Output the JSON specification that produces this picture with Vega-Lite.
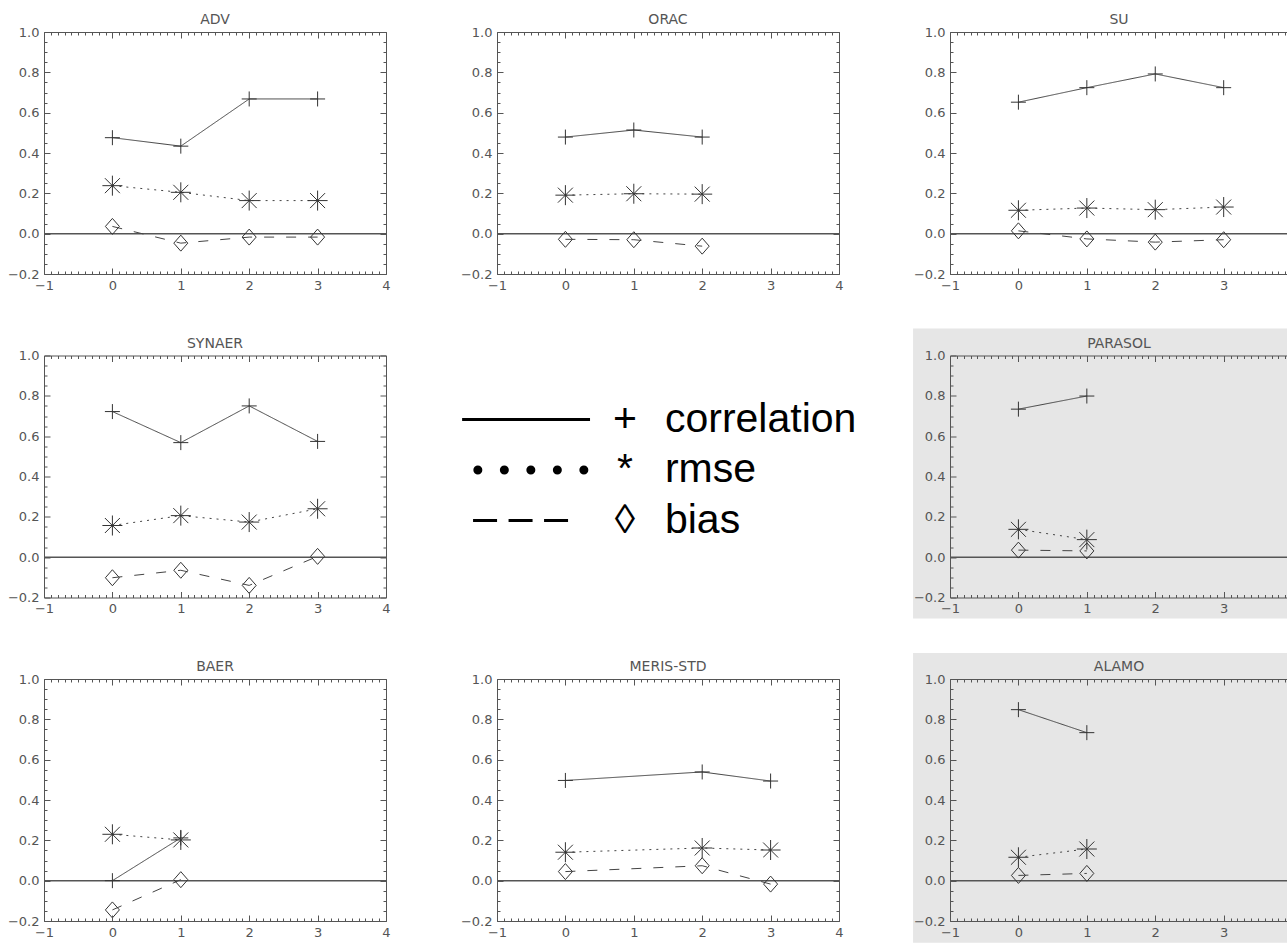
{
  "$schema": "https://vega.github.io/schema/vega-lite/v6.json",
  "background": "white",
  "padding": {"left": 7, "top": 13, "right": 0, "bottom": 0},
  "columns": 3,
  "bounds": "flush",
  "align": "all",
  "spacing": {"row": 81.5, "column": 111},
  "resolve": {"scale": {"x": "independent", "y": "independent"}},
  "config": {
    "view": {"stroke": null},
    "axis": {"domainColor": "#555", "tickColor": "#555", "labelColor": "#555", "labelFont": "DejaVu Sans", "labelFontSize": 13, "grid": false, "domainWidth": 1, "tickWidth": 1},
    "title": {"font": "DejaVu Sans", "fontSize": 14, "fontWeight": "normal", "color": "#555", "frame": "group", "offset": -1}
  },
  "datasets": {
    "stats": [
      {"panel": "ADV", "metric": "correlation", "step": 0, "value": 0.476},
      {"panel": "ADV", "metric": "correlation", "step": 1, "value": 0.434},
      {"panel": "ADV", "metric": "correlation", "step": 2, "value": 0.668},
      {"panel": "ADV", "metric": "correlation", "step": 3, "value": 0.668},
      {"panel": "ADV", "metric": "rmse", "step": 0, "value": 0.238},
      {"panel": "ADV", "metric": "rmse", "step": 1, "value": 0.205},
      {"panel": "ADV", "metric": "rmse", "step": 2, "value": 0.164},
      {"panel": "ADV", "metric": "rmse", "step": 3, "value": 0.164},
      {"panel": "ADV", "metric": "bias", "step": 0, "value": 0.036},
      {"panel": "ADV", "metric": "bias", "step": 1, "value": -0.047},
      {"panel": "ADV", "metric": "bias", "step": 2, "value": -0.017},
      {"panel": "ADV", "metric": "bias", "step": 3, "value": -0.017},
      {"panel": "ORAC", "metric": "correlation", "step": 0, "value": 0.479},
      {"panel": "ORAC", "metric": "correlation", "step": 1, "value": 0.514},
      {"panel": "ORAC", "metric": "correlation", "step": 2, "value": 0.479},
      {"panel": "ORAC", "metric": "rmse", "step": 0, "value": 0.191},
      {"panel": "ORAC", "metric": "rmse", "step": 1, "value": 0.198},
      {"panel": "ORAC", "metric": "rmse", "step": 2, "value": 0.196},
      {"panel": "ORAC", "metric": "bias", "step": 0, "value": -0.028},
      {"panel": "ORAC", "metric": "bias", "step": 1, "value": -0.030},
      {"panel": "ORAC", "metric": "bias", "step": 2, "value": -0.062},
      {"panel": "SU", "metric": "correlation", "step": 0, "value": 0.652},
      {"panel": "SU", "metric": "correlation", "step": 1, "value": 0.724},
      {"panel": "SU", "metric": "correlation", "step": 2, "value": 0.792},
      {"panel": "SU", "metric": "correlation", "step": 3, "value": 0.724},
      {"panel": "SU", "metric": "rmse", "step": 0, "value": 0.116},
      {"panel": "SU", "metric": "rmse", "step": 1, "value": 0.127},
      {"panel": "SU", "metric": "rmse", "step": 2, "value": 0.119},
      {"panel": "SU", "metric": "rmse", "step": 3, "value": 0.132},
      {"panel": "SU", "metric": "bias", "step": 0, "value": 0.014},
      {"panel": "SU", "metric": "bias", "step": 1, "value": -0.026},
      {"panel": "SU", "metric": "bias", "step": 2, "value": -0.042},
      {"panel": "SU", "metric": "bias", "step": 3, "value": -0.030},
      {"panel": "SYNAER", "metric": "correlation", "step": 0, "value": 0.722},
      {"panel": "SYNAER", "metric": "correlation", "step": 1, "value": 0.568},
      {"panel": "SYNAER", "metric": "correlation", "step": 2, "value": 0.750},
      {"panel": "SYNAER", "metric": "correlation", "step": 3, "value": 0.574},
      {"panel": "SYNAER", "metric": "rmse", "step": 0, "value": 0.157},
      {"panel": "SYNAER", "metric": "rmse", "step": 1, "value": 0.206},
      {"panel": "SYNAER", "metric": "rmse", "step": 2, "value": 0.174},
      {"panel": "SYNAER", "metric": "rmse", "step": 3, "value": 0.240},
      {"panel": "SYNAER", "metric": "bias", "step": 0, "value": -0.102},
      {"panel": "SYNAER", "metric": "bias", "step": 1, "value": -0.065},
      {"panel": "SYNAER", "metric": "bias", "step": 2, "value": -0.140},
      {"panel": "SYNAER", "metric": "bias", "step": 3, "value": 0.004},
      {"panel": "PARASOL", "metric": "correlation", "step": 0, "value": 0.734},
      {"panel": "PARASOL", "metric": "correlation", "step": 1, "value": 0.799},
      {"panel": "PARASOL", "metric": "rmse", "step": 0, "value": 0.138},
      {"panel": "PARASOL", "metric": "rmse", "step": 1, "value": 0.087},
      {"panel": "PARASOL", "metric": "bias", "step": 0, "value": 0.035},
      {"panel": "PARASOL", "metric": "bias", "step": 1, "value": 0.031},
      {"panel": "BAER", "metric": "correlation", "step": 0, "value": 0.0},
      {"panel": "BAER", "metric": "correlation", "step": 1, "value": 0.212},
      {"panel": "BAER", "metric": "rmse", "step": 0, "value": 0.230},
      {"panel": "BAER", "metric": "rmse", "step": 1, "value": 0.202},
      {"panel": "BAER", "metric": "bias", "step": 0, "value": -0.145},
      {"panel": "BAER", "metric": "bias", "step": 1, "value": 0.005},
      {"panel": "MERIS-STD", "metric": "correlation", "step": 0, "value": 0.497},
      {"panel": "MERIS-STD", "metric": "correlation", "step": 2, "value": 0.539},
      {"panel": "MERIS-STD", "metric": "correlation", "step": 3, "value": 0.494},
      {"panel": "MERIS-STD", "metric": "rmse", "step": 0, "value": 0.141},
      {"panel": "MERIS-STD", "metric": "rmse", "step": 2, "value": 0.162},
      {"panel": "MERIS-STD", "metric": "rmse", "step": 3, "value": 0.152},
      {"panel": "MERIS-STD", "metric": "bias", "step": 0, "value": 0.045},
      {"panel": "MERIS-STD", "metric": "bias", "step": 2, "value": 0.074},
      {"panel": "MERIS-STD", "metric": "bias", "step": 3, "value": -0.017},
      {"panel": "ALAMO", "metric": "correlation", "step": 0, "value": 0.848},
      {"panel": "ALAMO", "metric": "correlation", "step": 1, "value": 0.734},
      {"panel": "ALAMO", "metric": "rmse", "step": 0, "value": 0.116},
      {"panel": "ALAMO", "metric": "rmse", "step": 1, "value": 0.157},
      {"panel": "ALAMO", "metric": "bias", "step": 0, "value": 0.026},
      {"panel": "ALAMO", "metric": "bias", "step": 1, "value": 0.036}
    ],
    "legendRows": [
      {"metric": "correlation", "symbol": "+", "label": "correlation"},
      {"metric": "rmse", "symbol": "*", "label": "rmse"},
      {"metric": "bias", "symbol": "◊", "label": "bias"}
    ],
    "one": [{}]
  },
  "concat": [
    {
      "width": 342, "height": 242,
      "title": {"text": "ADV"},
      "layer": [
        {"data": {"name": "one"}, "mark": {"type": "rule", "color": "#555", "strokeWidth": 1.5}, "encoding": {"y": {"datum": 0, "type": "quantitative", "scale": {"domain": [-0.2, 1.0], "nice": false, "zero": false}, "axis": null}}},
        {"data": {"name": "stats"}, "transform": [{"filter": "datum.panel == 'ADV'"}], "mark": {"type": "line", "color": "#444", "strokeWidth": 1},
         "encoding": {
           "x": {"field": "step", "type": "quantitative", "scale": {"domain": [-1, 4], "nice": false, "zero": false}, "axis": {"orient": "bottom", "zindex": 1, "title": null, "tickCount": 50, "labelOverlap": false, "labelBound": false, "labelFlush": false, "tickSize": {"condition": {"test": "abs(datum.value - round(datum.value)) < 0.000001", "value": -6}, "value": -3}, "labelExpr": "abs(datum.value - round(datum.value)) < 0.000001 ? format(datum.value, 'd') : ''", "labelPadding": 11}},
           "y": {"field": "value", "type": "quantitative", "scale": {"domain": [-0.2, 1.0], "nice": false, "zero": false}, "axis": {"orient": "left", "zindex": 1, "title": null, "tickCount": 24, "labelOverlap": false, "labelBound": false, "labelFlush": false, "tickSize": {"condition": {"test": "abs(datum.value * 5 - round(datum.value * 5)) < 0.000001", "value": -6}, "value": -3}, "labelExpr": "abs(datum.value * 5 - round(datum.value * 5)) < 0.000001 ? format(datum.value, '.1f') : ''", "labelPadding": 11}},
           "strokeDash": {"field": "metric", "type": "nominal", "scale": {"domain": ["correlation", "rmse", "bias"], "range": [[1, 0], [2, 5], [10, 12]]}, "legend": null}
         }},
        {"data": {"name": "stats"}, "transform": [{"filter": "datum.panel == 'ADV'"}], "mark": {"type": "point", "filled": false, "stroke": "#333", "strokeWidth": 1, "size": 400, "opacity": 1},
         "encoding": {
           "x": {"field": "step", "type": "quantitative", "scale": {"domain": [-1, 4], "nice": false, "zero": false}, "axis": {"orient": "top", "zindex": 1, "title": null, "tickCount": 50, "labels": false, "tickSize": {"condition": {"test": "abs(datum.value - round(datum.value)) < 0.000001", "value": -6}, "value": -3}}},
           "y": {"field": "value", "type": "quantitative", "scale": {"domain": [-0.2, 1.0], "nice": false, "zero": false}, "axis": {"orient": "right", "zindex": 1, "title": null, "tickCount": 24, "labels": false, "tickSize": {"condition": {"test": "abs(datum.value * 5 - round(datum.value * 5)) < 0.000001", "value": -6}, "value": -3}}},
           "shape": {"field": "metric", "type": "nominal", "scale": {"domain": ["correlation", "rmse", "bias"], "range": ["M-0.75,0L0.75,0M0,-0.75L0,0.75", "M-1,0L1,0M0,-1L0,1M-0.75,-0.75L0.75,0.75M-0.75,0.75L0.75,-0.75", "M0,-0.8L0.7,0L0,0.8L-0.7,0Z"]}, "legend": null}
         }}
      ],
      "resolve": {"axis": {"x": "independent", "y": "independent"}}
    },
    {
      "width": 342, "height": 242,
      "title": {"text": "ORAC"},
      "layer": [
        {"data": {"name": "one"}, "mark": {"type": "rule", "color": "#555", "strokeWidth": 1.5}, "encoding": {"y": {"datum": 0, "type": "quantitative", "scale": {"domain": [-0.2, 1.0], "nice": false, "zero": false}, "axis": null}}},
        {"data": {"name": "stats"}, "transform": [{"filter": "datum.panel == 'ORAC'"}], "mark": {"type": "line", "color": "#444", "strokeWidth": 1},
         "encoding": {
           "x": {"field": "step", "type": "quantitative", "scale": {"domain": [-1, 4], "nice": false, "zero": false}, "axis": {"orient": "bottom", "zindex": 1, "title": null, "tickCount": 50, "labelOverlap": false, "labelBound": false, "labelFlush": false, "tickSize": {"condition": {"test": "abs(datum.value - round(datum.value)) < 0.000001", "value": -6}, "value": -3}, "labelExpr": "abs(datum.value - round(datum.value)) < 0.000001 ? format(datum.value, 'd') : ''", "labelPadding": 11}},
           "y": {"field": "value", "type": "quantitative", "scale": {"domain": [-0.2, 1.0], "nice": false, "zero": false}, "axis": {"orient": "left", "zindex": 1, "title": null, "tickCount": 24, "labelOverlap": false, "labelBound": false, "labelFlush": false, "tickSize": {"condition": {"test": "abs(datum.value * 5 - round(datum.value * 5)) < 0.000001", "value": -6}, "value": -3}, "labelExpr": "abs(datum.value * 5 - round(datum.value * 5)) < 0.000001 ? format(datum.value, '.1f') : ''", "labelPadding": 11}},
           "strokeDash": {"field": "metric", "type": "nominal", "scale": {"domain": ["correlation", "rmse", "bias"], "range": [[1, 0], [2, 5], [10, 12]]}, "legend": null}
         }},
        {"data": {"name": "stats"}, "transform": [{"filter": "datum.panel == 'ORAC'"}], "mark": {"type": "point", "filled": false, "stroke": "#333", "strokeWidth": 1, "size": 400, "opacity": 1},
         "encoding": {
           "x": {"field": "step", "type": "quantitative", "scale": {"domain": [-1, 4], "nice": false, "zero": false}, "axis": {"orient": "top", "zindex": 1, "title": null, "tickCount": 50, "labels": false, "tickSize": {"condition": {"test": "abs(datum.value - round(datum.value)) < 0.000001", "value": -6}, "value": -3}}},
           "y": {"field": "value", "type": "quantitative", "scale": {"domain": [-0.2, 1.0], "nice": false, "zero": false}, "axis": {"orient": "right", "zindex": 1, "title": null, "tickCount": 24, "labels": false, "tickSize": {"condition": {"test": "abs(datum.value * 5 - round(datum.value * 5)) < 0.000001", "value": -6}, "value": -3}}},
           "shape": {"field": "metric", "type": "nominal", "scale": {"domain": ["correlation", "rmse", "bias"], "range": ["M-0.75,0L0.75,0M0,-0.75L0,0.75", "M-1,0L1,0M0,-1L0,1M-0.75,-0.75L0.75,0.75M-0.75,0.75L0.75,-0.75", "M0,-0.8L0.7,0L0,0.8L-0.7,0Z"]}, "legend": null}
         }}
      ],
      "resolve": {"axis": {"x": "independent", "y": "independent"}}
    },
    {
      "width": 338, "height": 242,
      "title": {"text": "SU"},
      "layer": [
        {"data": {"name": "one"}, "mark": {"type": "rule", "color": "#555", "strokeWidth": 1.5}, "encoding": {"y": {"datum": 0, "type": "quantitative", "scale": {"domain": [-0.2, 1.0], "nice": false, "zero": false}, "axis": null}}},
        {"data": {"name": "stats"}, "transform": [{"filter": "datum.panel == 'SU'"}], "mark": {"type": "line", "color": "#444", "strokeWidth": 1},
         "encoding": {
           "x": {"field": "step", "type": "quantitative", "scale": {"domain": [-1, 3.94], "nice": false, "zero": false}, "axis": {"orient": "bottom", "zindex": 1, "title": null, "tickCount": 50, "labelOverlap": false, "labelBound": false, "labelFlush": false, "tickSize": {"condition": {"test": "abs(datum.value - round(datum.value)) < 0.000001", "value": -6}, "value": -3}, "labelExpr": "abs(datum.value - round(datum.value)) < 0.000001 ? format(datum.value, 'd') : ''", "labelPadding": 11}},
           "y": {"field": "value", "type": "quantitative", "scale": {"domain": [-0.2, 1.0], "nice": false, "zero": false}, "axis": {"orient": "left", "zindex": 1, "title": null, "tickCount": 24, "labelOverlap": false, "labelBound": false, "labelFlush": false, "tickSize": {"condition": {"test": "abs(datum.value * 5 - round(datum.value * 5)) < 0.000001", "value": -6}, "value": -3}, "labelExpr": "abs(datum.value * 5 - round(datum.value * 5)) < 0.000001 ? format(datum.value, '.1f') : ''", "labelPadding": 11}},
           "strokeDash": {"field": "metric", "type": "nominal", "scale": {"domain": ["correlation", "rmse", "bias"], "range": [[1, 0], [2, 5], [10, 12]]}, "legend": null}
         }},
        {"data": {"name": "stats"}, "transform": [{"filter": "datum.panel == 'SU'"}], "mark": {"type": "point", "filled": false, "stroke": "#333", "strokeWidth": 1, "size": 400, "opacity": 1},
         "encoding": {
           "x": {"field": "step", "type": "quantitative", "scale": {"domain": [-1, 3.94], "nice": false, "zero": false}, "axis": {"orient": "top", "zindex": 1, "title": null, "tickCount": 50, "labels": false, "tickSize": {"condition": {"test": "abs(datum.value - round(datum.value)) < 0.000001", "value": -6}, "value": -3}}},
           "y": {"field": "value", "type": "quantitative", "scale": {"domain": [-0.2, 1.0], "nice": false, "zero": false}, "axis": null},
           "shape": {"field": "metric", "type": "nominal", "scale": {"domain": ["correlation", "rmse", "bias"], "range": ["M-0.75,0L0.75,0M0,-0.75L0,0.75", "M-1,0L1,0M0,-1L0,1M-0.75,-0.75L0.75,0.75M-0.75,0.75L0.75,-0.75", "M0,-0.8L0.7,0L0,0.8L-0.7,0Z"]}, "legend": null}
         }}
      ],
      "resolve": {"axis": {"x": "independent", "y": "independent"}}
    },
    {
      "width": 342, "height": 242,
      "title": {"text": "SYNAER"},
      "layer": [
        {"data": {"name": "one"}, "mark": {"type": "rule", "color": "#555", "strokeWidth": 1.5}, "encoding": {"y": {"datum": 0, "type": "quantitative", "scale": {"domain": [-0.2, 1.0], "nice": false, "zero": false}, "axis": null}}},
        {"data": {"name": "stats"}, "transform": [{"filter": "datum.panel == 'SYNAER'"}], "mark": {"type": "line", "color": "#444", "strokeWidth": 1},
         "encoding": {
           "x": {"field": "step", "type": "quantitative", "scale": {"domain": [-1, 4], "nice": false, "zero": false}, "axis": {"orient": "bottom", "zindex": 1, "title": null, "tickCount": 50, "labelOverlap": false, "labelBound": false, "labelFlush": false, "tickSize": {"condition": {"test": "abs(datum.value - round(datum.value)) < 0.000001", "value": -6}, "value": -3}, "labelExpr": "abs(datum.value - round(datum.value)) < 0.000001 ? format(datum.value, 'd') : ''", "labelPadding": 11}},
           "y": {"field": "value", "type": "quantitative", "scale": {"domain": [-0.2, 1.0], "nice": false, "zero": false}, "axis": {"orient": "left", "zindex": 1, "title": null, "tickCount": 24, "labelOverlap": false, "labelBound": false, "labelFlush": false, "tickSize": {"condition": {"test": "abs(datum.value * 5 - round(datum.value * 5)) < 0.000001", "value": -6}, "value": -3}, "labelExpr": "abs(datum.value * 5 - round(datum.value * 5)) < 0.000001 ? format(datum.value, '.1f') : ''", "labelPadding": 11}},
           "strokeDash": {"field": "metric", "type": "nominal", "scale": {"domain": ["correlation", "rmse", "bias"], "range": [[1, 0], [2, 5], [10, 12]]}, "legend": null}
         }},
        {"data": {"name": "stats"}, "transform": [{"filter": "datum.panel == 'SYNAER'"}], "mark": {"type": "point", "filled": false, "stroke": "#333", "strokeWidth": 1, "size": 400, "opacity": 1},
         "encoding": {
           "x": {"field": "step", "type": "quantitative", "scale": {"domain": [-1, 4], "nice": false, "zero": false}, "axis": {"orient": "top", "zindex": 1, "title": null, "tickCount": 50, "labels": false, "tickSize": {"condition": {"test": "abs(datum.value - round(datum.value)) < 0.000001", "value": -6}, "value": -3}}},
           "y": {"field": "value", "type": "quantitative", "scale": {"domain": [-0.2, 1.0], "nice": false, "zero": false}, "axis": {"orient": "right", "zindex": 1, "title": null, "tickCount": 24, "labels": false, "tickSize": {"condition": {"test": "abs(datum.value * 5 - round(datum.value * 5)) < 0.000001", "value": -6}, "value": -3}}},
           "shape": {"field": "metric", "type": "nominal", "scale": {"domain": ["correlation", "rmse", "bias"], "range": ["M-0.75,0L0.75,0M0,-0.75L0,0.75", "M-1,0L1,0M0,-1L0,1M-0.75,-0.75L0.75,0.75M-0.75,0.75L0.75,-0.75", "M0,-0.8L0.7,0L0,0.8L-0.7,0Z"]}, "legend": null}
         }}
      ],
      "resolve": {"axis": {"x": "independent", "y": "independent"}}
    },
    {
      "width": 342, "height": 229,
      "data": {"name": "legendRows"},
      "encoding": {"y": {"field": "metric", "type": "nominal", "scale": {"type": "point", "domain": ["correlation", "rmse", "bias"], "range": [64, 165], "padding": 0}, "axis": null}},
      "layer": [
        {"transform": [{"filter": "datum.metric == 'correlation'"}], "mark": {"type": "rule", "color": "black", "strokeWidth": 3}, "encoding": {"x": {"datum": -0.102, "type": "quantitative", "scale": {"domain": [0, 1], "nice": false, "zero": false}, "axis": null}, "x2": {"datum": 0.272}}},
        {"transform": [{"filter": "datum.metric == 'rmse'"}], "mark": {"type": "rule", "color": "black", "strokeWidth": 9, "strokeCap": "round", "strokeDash": [0, 26.5]}, "encoding": {"x": {"datum": -0.056, "type": "quantitative", "scale": {"domain": [0, 1], "nice": false, "zero": false}, "axis": null}, "x2": {"datum": 0.254}}},
        {"transform": [{"filter": "datum.metric == 'bias'"}], "mark": {"type": "rule", "color": "black", "strokeWidth": 3, "strokeDash": [24, 11.5]}, "encoding": {"x": {"datum": -0.070, "type": "quantitative", "scale": {"domain": [0, 1], "nice": false, "zero": false}, "axis": null}, "x2": {"datum": 0.208}}},
        {"mark": {"type": "text", "color": "black", "font": "Liberation Sans", "fontSize": 41, "align": "center", "baseline": "middle"}, "encoding": {"x": {"datum": 0.374, "type": "quantitative", "scale": {"domain": [0, 1], "nice": false, "zero": false}, "axis": null}, "text": {"field": "symbol"}}},
        {"mark": {"type": "text", "color": "black", "font": "Liberation Sans", "fontSize": 41, "align": "left", "baseline": "middle"}, "encoding": {"x": {"datum": 0.491, "type": "quantitative", "scale": {"domain": [0, 1], "nice": false, "zero": false}, "axis": null}, "text": {"field": "label"}}}
      ]
    },
    {
      "width": 338, "height": 242,
      "title": {"text": "PARASOL", "offset": -23},
      "layer": [
        {"data": {"name": "one"}, "mark": {"type": "rect", "color": "#e6e6e6", "clip": false}, "encoding": {"x": {"datum": -1.54, "type": "quantitative", "scale": {"domain": [-1, 3.94], "nice": false, "zero": false}, "axis": null}, "x2": {"datum": 3.94}, "y": {"datum": 1.134, "type": "quantitative", "scale": {"domain": [-0.2, 1.0], "nice": false, "zero": false}, "axis": null}, "y2": {"datum": -0.304}}},
        {"data": {"name": "one"}, "mark": {"type": "rule", "color": "#555", "strokeWidth": 1.5}, "encoding": {"y": {"datum": 0, "type": "quantitative", "scale": {"domain": [-0.2, 1.0], "nice": false, "zero": false}, "axis": null}}},
        {"data": {"name": "stats"}, "transform": [{"filter": "datum.panel == 'PARASOL'"}], "mark": {"type": "line", "color": "#444", "strokeWidth": 1},
         "encoding": {
           "x": {"field": "step", "type": "quantitative", "scale": {"domain": [-1, 3.94], "nice": false, "zero": false}, "axis": {"orient": "bottom", "zindex": 1, "title": null, "tickCount": 50, "labelOverlap": false, "labelBound": false, "labelFlush": false, "tickSize": {"condition": {"test": "abs(datum.value - round(datum.value)) < 0.000001", "value": -6}, "value": -3}, "labelExpr": "abs(datum.value - round(datum.value)) < 0.000001 ? format(datum.value, 'd') : ''", "labelPadding": 11}},
           "y": {"field": "value", "type": "quantitative", "scale": {"domain": [-0.2, 1.0], "nice": false, "zero": false}, "axis": {"orient": "left", "zindex": 1, "title": null, "tickCount": 24, "labelOverlap": false, "labelBound": false, "labelFlush": false, "tickSize": {"condition": {"test": "abs(datum.value * 5 - round(datum.value * 5)) < 0.000001", "value": -6}, "value": -3}, "labelExpr": "abs(datum.value * 5 - round(datum.value * 5)) < 0.000001 ? format(datum.value, '.1f') : ''", "labelPadding": 11}},
           "strokeDash": {"field": "metric", "type": "nominal", "scale": {"domain": ["correlation", "rmse", "bias"], "range": [[1, 0], [2, 5], [10, 12]]}, "legend": null}
         }},
        {"data": {"name": "stats"}, "transform": [{"filter": "datum.panel == 'PARASOL'"}], "mark": {"type": "point", "filled": false, "stroke": "#333", "strokeWidth": 1, "size": 400, "opacity": 1},
         "encoding": {
           "x": {"field": "step", "type": "quantitative", "scale": {"domain": [-1, 3.94], "nice": false, "zero": false}, "axis": {"orient": "top", "zindex": 1, "title": null, "tickCount": 50, "labels": false, "tickSize": {"condition": {"test": "abs(datum.value - round(datum.value)) < 0.000001", "value": -6}, "value": -3}}},
           "y": {"field": "value", "type": "quantitative", "scale": {"domain": [-0.2, 1.0], "nice": false, "zero": false}, "axis": null},
           "shape": {"field": "metric", "type": "nominal", "scale": {"domain": ["correlation", "rmse", "bias"], "range": ["M-0.75,0L0.75,0M0,-0.75L0,0.75", "M-1,0L1,0M0,-1L0,1M-0.75,-0.75L0.75,0.75M-0.75,0.75L0.75,-0.75", "M0,-0.8L0.7,0L0,0.8L-0.7,0Z"]}, "legend": null}
         }}
      ],
      "resolve": {"axis": {"x": "independent", "y": "independent"}}
    },
    {
      "width": 342, "height": 242,
      "title": {"text": "BAER"},
      "layer": [
        {"data": {"name": "one"}, "mark": {"type": "rule", "color": "#555", "strokeWidth": 1.5}, "encoding": {"y": {"datum": 0, "type": "quantitative", "scale": {"domain": [-0.2, 1.0], "nice": false, "zero": false}, "axis": null}}},
        {"data": {"name": "stats"}, "transform": [{"filter": "datum.panel == 'BAER'"}], "mark": {"type": "line", "color": "#444", "strokeWidth": 1},
         "encoding": {
           "x": {"field": "step", "type": "quantitative", "scale": {"domain": [-1, 4], "nice": false, "zero": false}, "axis": {"orient": "bottom", "zindex": 1, "title": null, "tickCount": 50, "labelOverlap": false, "labelBound": false, "labelFlush": false, "tickSize": {"condition": {"test": "abs(datum.value - round(datum.value)) < 0.000001", "value": -6}, "value": -3}, "labelExpr": "abs(datum.value - round(datum.value)) < 0.000001 ? format(datum.value, 'd') : ''", "labelPadding": 11}},
           "y": {"field": "value", "type": "quantitative", "scale": {"domain": [-0.2, 1.0], "nice": false, "zero": false}, "axis": {"orient": "left", "zindex": 1, "title": null, "tickCount": 24, "labelOverlap": false, "labelBound": false, "labelFlush": false, "tickSize": {"condition": {"test": "abs(datum.value * 5 - round(datum.value * 5)) < 0.000001", "value": -6}, "value": -3}, "labelExpr": "abs(datum.value * 5 - round(datum.value * 5)) < 0.000001 ? format(datum.value, '.1f') : ''", "labelPadding": 11}},
           "strokeDash": {"field": "metric", "type": "nominal", "scale": {"domain": ["correlation", "rmse", "bias"], "range": [[1, 0], [2, 5], [10, 12]]}, "legend": null}
         }},
        {"data": {"name": "stats"}, "transform": [{"filter": "datum.panel == 'BAER'"}], "mark": {"type": "point", "filled": false, "stroke": "#333", "strokeWidth": 1, "size": 400, "opacity": 1},
         "encoding": {
           "x": {"field": "step", "type": "quantitative", "scale": {"domain": [-1, 4], "nice": false, "zero": false}, "axis": {"orient": "top", "zindex": 1, "title": null, "tickCount": 50, "labels": false, "tickSize": {"condition": {"test": "abs(datum.value - round(datum.value)) < 0.000001", "value": -6}, "value": -3}}},
           "y": {"field": "value", "type": "quantitative", "scale": {"domain": [-0.2, 1.0], "nice": false, "zero": false}, "axis": {"orient": "right", "zindex": 1, "title": null, "tickCount": 24, "labels": false, "tickSize": {"condition": {"test": "abs(datum.value * 5 - round(datum.value * 5)) < 0.000001", "value": -6}, "value": -3}}},
           "shape": {"field": "metric", "type": "nominal", "scale": {"domain": ["correlation", "rmse", "bias"], "range": ["M-0.75,0L0.75,0M0,-0.75L0,0.75", "M-1,0L1,0M0,-1L0,1M-0.75,-0.75L0.75,0.75M-0.75,0.75L0.75,-0.75", "M0,-0.8L0.7,0L0,0.8L-0.7,0Z"]}, "legend": null}
         }}
      ],
      "resolve": {"axis": {"x": "independent", "y": "independent"}}
    },
    {
      "width": 342, "height": 242,
      "title": {"text": "MERIS-STD"},
      "layer": [
        {"data": {"name": "one"}, "mark": {"type": "rule", "color": "#555", "strokeWidth": 1.5}, "encoding": {"y": {"datum": 0, "type": "quantitative", "scale": {"domain": [-0.2, 1.0], "nice": false, "zero": false}, "axis": null}}},
        {"data": {"name": "stats"}, "transform": [{"filter": "datum.panel == 'MERIS-STD'"}], "mark": {"type": "line", "color": "#444", "strokeWidth": 1},
         "encoding": {
           "x": {"field": "step", "type": "quantitative", "scale": {"domain": [-1, 4], "nice": false, "zero": false}, "axis": {"orient": "bottom", "zindex": 1, "title": null, "tickCount": 50, "labelOverlap": false, "labelBound": false, "labelFlush": false, "tickSize": {"condition": {"test": "abs(datum.value - round(datum.value)) < 0.000001", "value": -6}, "value": -3}, "labelExpr": "abs(datum.value - round(datum.value)) < 0.000001 ? format(datum.value, 'd') : ''", "labelPadding": 11}},
           "y": {"field": "value", "type": "quantitative", "scale": {"domain": [-0.2, 1.0], "nice": false, "zero": false}, "axis": {"orient": "left", "zindex": 1, "title": null, "tickCount": 24, "labelOverlap": false, "labelBound": false, "labelFlush": false, "tickSize": {"condition": {"test": "abs(datum.value * 5 - round(datum.value * 5)) < 0.000001", "value": -6}, "value": -3}, "labelExpr": "abs(datum.value * 5 - round(datum.value * 5)) < 0.000001 ? format(datum.value, '.1f') : ''", "labelPadding": 11}},
           "strokeDash": {"field": "metric", "type": "nominal", "scale": {"domain": ["correlation", "rmse", "bias"], "range": [[1, 0], [2, 5], [10, 12]]}, "legend": null}
         }},
        {"data": {"name": "stats"}, "transform": [{"filter": "datum.panel == 'MERIS-STD'"}], "mark": {"type": "point", "filled": false, "stroke": "#333", "strokeWidth": 1, "size": 400, "opacity": 1},
         "encoding": {
           "x": {"field": "step", "type": "quantitative", "scale": {"domain": [-1, 4], "nice": false, "zero": false}, "axis": {"orient": "top", "zindex": 1, "title": null, "tickCount": 50, "labels": false, "tickSize": {"condition": {"test": "abs(datum.value - round(datum.value)) < 0.000001", "value": -6}, "value": -3}}},
           "y": {"field": "value", "type": "quantitative", "scale": {"domain": [-0.2, 1.0], "nice": false, "zero": false}, "axis": {"orient": "right", "zindex": 1, "title": null, "tickCount": 24, "labels": false, "tickSize": {"condition": {"test": "abs(datum.value * 5 - round(datum.value * 5)) < 0.000001", "value": -6}, "value": -3}}},
           "shape": {"field": "metric", "type": "nominal", "scale": {"domain": ["correlation", "rmse", "bias"], "range": ["M-0.75,0L0.75,0M0,-0.75L0,0.75", "M-1,0L1,0M0,-1L0,1M-0.75,-0.75L0.75,0.75M-0.75,0.75L0.75,-0.75", "M0,-0.8L0.7,0L0,0.8L-0.7,0Z"]}, "legend": null}
         }}
      ],
      "resolve": {"axis": {"x": "independent", "y": "independent"}}
    },
    {
      "width": 338, "height": 242,
      "title": {"text": "ALAMO", "offset": -21},
      "layer": [
        {"data": {"name": "one"}, "mark": {"type": "rect", "color": "#e6e6e6", "clip": false}, "encoding": {"x": {"datum": -1.54, "type": "quantitative", "scale": {"domain": [-1, 3.94], "nice": false, "zero": false}, "axis": null}, "x2": {"datum": 3.94}, "y": {"datum": 1.129, "type": "quantitative", "scale": {"domain": [-0.2, 1.0], "nice": false, "zero": false}, "axis": null}, "y2": {"datum": -0.308}}},
        {"data": {"name": "one"}, "mark": {"type": "rule", "color": "#555", "strokeWidth": 1.5}, "encoding": {"y": {"datum": 0, "type": "quantitative", "scale": {"domain": [-0.2, 1.0], "nice": false, "zero": false}, "axis": null}}},
        {"data": {"name": "stats"}, "transform": [{"filter": "datum.panel == 'ALAMO'"}], "mark": {"type": "line", "color": "#444", "strokeWidth": 1},
         "encoding": {
           "x": {"field": "step", "type": "quantitative", "scale": {"domain": [-1, 3.94], "nice": false, "zero": false}, "axis": {"orient": "bottom", "zindex": 1, "title": null, "tickCount": 50, "labelOverlap": false, "labelBound": false, "labelFlush": false, "tickSize": {"condition": {"test": "abs(datum.value - round(datum.value)) < 0.000001", "value": -6}, "value": -3}, "labelExpr": "abs(datum.value - round(datum.value)) < 0.000001 ? format(datum.value, 'd') : ''", "labelPadding": 11}},
           "y": {"field": "value", "type": "quantitative", "scale": {"domain": [-0.2, 1.0], "nice": false, "zero": false}, "axis": {"orient": "left", "zindex": 1, "title": null, "tickCount": 24, "labelOverlap": false, "labelBound": false, "labelFlush": false, "tickSize": {"condition": {"test": "abs(datum.value * 5 - round(datum.value * 5)) < 0.000001", "value": -6}, "value": -3}, "labelExpr": "abs(datum.value * 5 - round(datum.value * 5)) < 0.000001 ? format(datum.value, '.1f') : ''", "labelPadding": 11}},
           "strokeDash": {"field": "metric", "type": "nominal", "scale": {"domain": ["correlation", "rmse", "bias"], "range": [[1, 0], [2, 5], [10, 12]]}, "legend": null}
         }},
        {"data": {"name": "stats"}, "transform": [{"filter": "datum.panel == 'ALAMO'"}], "mark": {"type": "point", "filled": false, "stroke": "#333", "strokeWidth": 1, "size": 400, "opacity": 1},
         "encoding": {
           "x": {"field": "step", "type": "quantitative", "scale": {"domain": [-1, 3.94], "nice": false, "zero": false}, "axis": {"orient": "top", "zindex": 1, "title": null, "tickCount": 50, "labels": false, "tickSize": {"condition": {"test": "abs(datum.value - round(datum.value)) < 0.000001", "value": -6}, "value": -3}}},
           "y": {"field": "value", "type": "quantitative", "scale": {"domain": [-0.2, 1.0], "nice": false, "zero": false}, "axis": null},
           "shape": {"field": "metric", "type": "nominal", "scale": {"domain": ["correlation", "rmse", "bias"], "range": ["M-0.75,0L0.75,0M0,-0.75L0,0.75", "M-1,0L1,0M0,-1L0,1M-0.75,-0.75L0.75,0.75M-0.75,0.75L0.75,-0.75", "M0,-0.8L0.7,0L0,0.8L-0.7,0Z"]}, "legend": null}
         }}
      ],
      "resolve": {"axis": {"x": "independent", "y": "independent"}}
    }
  ]
}
